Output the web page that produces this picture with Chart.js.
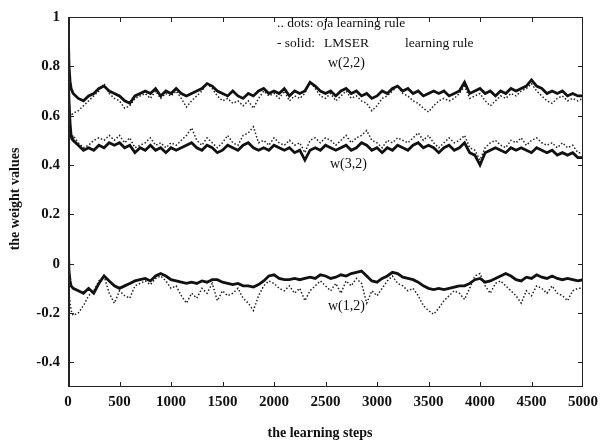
<!DOCTYPE html>
<html>
<head>
<meta charset="utf-8">
<script src="https://cdn.jsdelivr.net/npm/chart.js@4.4.1/dist/chart.umd.min.js"></script>
<style>
  html, body { margin: 0; padding: 0; background: #fff; }
  #wrap { width: 604px; height: 444px; }
</style>
</head>
<body>
<div id="wrap"><canvas id="c" width="604" height="444"></canvas></div>
<script>
// learning steps at which the weights were recorded
const steps = [0, 10, 20, 30,
  50, 100, 150, 200, 250, 300, 350, 400, 450, 500,
  550, 600, 650, 700, 750, 800, 850, 900, 950, 1000,
  1050, 1100, 1150, 1200, 1250, 1300, 1350, 1400, 1450, 1500,
  1550, 1600, 1650, 1700, 1750, 1800, 1850, 1900, 1950, 2000,
  2050, 2100, 2150, 2200, 2250, 2300, 2350, 2400, 2450, 2500,
  2550, 2600, 2650, 2700, 2750, 2800, 2850, 2900, 2950, 3000,
  3050, 3100, 3150, 3200, 3250, 3300, 3350, 3400, 3450, 3500,
  3550, 3600, 3650, 3700, 3750, 3800, 3850, 3900, 3950, 4000,
  4050, 4100, 4150, 4200, 4250, 4300, 4350, 4400, 4450, 4500,
  4550, 4600, 4650, 4700, 4750, 4800, 4850, 4900, 4950, 5000];

// w(2,2)
const w22Lmser = [0.99, 0.80, 0.74, 0.71,
  0.69, 0.67, 0.66, 0.68, 0.69, 0.71, 0.72, 0.70, 0.69, 0.68,
  0.66, 0.65, 0.68, 0.69, 0.70, 0.69, 0.71, 0.68, 0.70, 0.69,
  0.71, 0.69, 0.68, 0.69, 0.70, 0.71, 0.73, 0.72, 0.70, 0.69,
  0.68, 0.70, 0.68, 0.67, 0.69, 0.68, 0.70, 0.71, 0.69, 0.70,
  0.69, 0.71, 0.68, 0.70, 0.69, 0.70, 0.735, 0.72, 0.70, 0.69,
  0.70, 0.68, 0.70, 0.71, 0.69, 0.70, 0.68, 0.69, 0.67, 0.68,
  0.70, 0.69, 0.71, 0.72, 0.70, 0.71, 0.69, 0.70, 0.68, 0.69,
  0.70, 0.69, 0.70, 0.68, 0.69, 0.70, 0.735, 0.69, 0.70, 0.71,
  0.69, 0.70, 0.68, 0.70, 0.69, 0.71, 0.70, 0.71, 0.72, 0.745,
  0.72, 0.71, 0.69, 0.70, 0.69, 0.70, 0.68, 0.69, 0.68, 0.68];
const w22Oja = [0.75, 0.66, 0.61, 0.60,
  0.61, 0.62, 0.64, 0.66, 0.68, 0.70, 0.73, 0.69, 0.67, 0.66,
  0.63, 0.64, 0.67, 0.68, 0.69, 0.67, 0.70, 0.67, 0.69, 0.68,
  0.70, 0.67, 0.635, 0.66, 0.68, 0.70, 0.73, 0.71, 0.68, 0.66,
  0.67, 0.65, 0.66, 0.64, 0.66, 0.63, 0.67, 0.70, 0.68, 0.69,
  0.67, 0.70, 0.66, 0.68, 0.67, 0.69, 0.74, 0.71, 0.68, 0.67,
  0.69, 0.66, 0.68, 0.70, 0.67, 0.68, 0.66, 0.65, 0.62, 0.64,
  0.67, 0.68, 0.70, 0.72, 0.69, 0.68, 0.66, 0.65, 0.63, 0.615,
  0.64, 0.66, 0.67, 0.66, 0.67, 0.69, 0.72, 0.67, 0.68, 0.69,
  0.66, 0.64, 0.66, 0.68, 0.67, 0.69, 0.68, 0.70, 0.71, 0.73,
  0.70, 0.68, 0.66, 0.65, 0.67, 0.68, 0.66, 0.67, 0.66, 0.67];

// w(3,2)
const w32Lmser = [0.78, 0.66, 0.57, 0.52,
  0.50, 0.48, 0.46, 0.47, 0.46, 0.48, 0.47, 0.49, 0.48, 0.49,
  0.47, 0.48, 0.45, 0.47, 0.46, 0.48, 0.46, 0.47, 0.45, 0.47,
  0.46, 0.47, 0.48, 0.49, 0.47, 0.46, 0.48, 0.47, 0.45, 0.46,
  0.48, 0.47, 0.46, 0.48, 0.49, 0.47, 0.46, 0.47, 0.46, 0.48,
  0.47, 0.46, 0.47, 0.45, 0.46, 0.42, 0.46, 0.47, 0.46, 0.48,
  0.47, 0.46, 0.47, 0.48, 0.46, 0.47, 0.49, 0.48, 0.46, 0.47,
  0.45, 0.47, 0.46, 0.48, 0.47, 0.46, 0.48, 0.49, 0.47, 0.48,
  0.47, 0.45, 0.47, 0.48, 0.46, 0.47, 0.49, 0.45, 0.44, 0.40,
  0.45, 0.46, 0.47, 0.46, 0.45, 0.47, 0.46, 0.47, 0.46, 0.45,
  0.47, 0.46, 0.45, 0.46, 0.44, 0.45, 0.44, 0.45, 0.43, 0.43];
const w32Oja = [0.74, 0.60, 0.52, 0.50,
  0.52, 0.49, 0.47, 0.48, 0.50, 0.51, 0.50, 0.52, 0.50, 0.52,
  0.49, 0.51, 0.47, 0.48, 0.49, 0.51, 0.48, 0.49, 0.47, 0.49,
  0.48, 0.50, 0.52, 0.55, 0.50, 0.48, 0.51, 0.49, 0.47, 0.49,
  0.52, 0.49, 0.48, 0.52, 0.53, 0.555, 0.49, 0.50, 0.48, 0.51,
  0.49, 0.48, 0.50, 0.48, 0.49, 0.45, 0.50, 0.51, 0.49, 0.51,
  0.50, 0.48, 0.50, 0.52, 0.49, 0.51, 0.52, 0.54, 0.50, 0.49,
  0.47, 0.50, 0.49, 0.51, 0.50, 0.49, 0.51, 0.53, 0.50, 0.52,
  0.49, 0.47, 0.49, 0.51, 0.49, 0.50, 0.52, 0.47, 0.46, 0.42,
  0.47, 0.49, 0.50, 0.48, 0.47, 0.50, 0.49, 0.51, 0.48, 0.50,
  0.51, 0.49, 0.48, 0.49, 0.47, 0.49, 0.47, 0.48, 0.45, 0.45];

// w(1,2)
const w12Lmser = [0.11, -0.03, -0.07, -0.09,
  -0.10, -0.11, -0.12, -0.10, -0.12, -0.08, -0.05, -0.07, -0.09, -0.10,
  -0.09, -0.08, -0.07, -0.065, -0.06, -0.07, -0.05, -0.04, -0.05, -0.065,
  -0.07, -0.075, -0.08, -0.075, -0.08, -0.07, -0.075, -0.065, -0.065, -0.075,
  -0.08, -0.085, -0.08, -0.09, -0.09, -0.095, -0.085, -0.07, -0.05, -0.045,
  -0.06, -0.065, -0.065, -0.06, -0.065, -0.06, -0.055, -0.06, -0.045, -0.05,
  -0.06, -0.055, -0.045, -0.05, -0.04, -0.035, -0.03, -0.05, -0.07, -0.075,
  -0.06, -0.05, -0.035, -0.04, -0.055, -0.06, -0.065, -0.075, -0.09, -0.10,
  -0.105, -0.10, -0.105, -0.10, -0.095, -0.09, -0.09, -0.08, -0.065, -0.06,
  -0.075, -0.07, -0.06, -0.05, -0.04, -0.05, -0.065, -0.07, -0.055, -0.06,
  -0.045, -0.055, -0.06, -0.05, -0.06, -0.065, -0.06, -0.065, -0.07, -0.065];
const w12Oja = [0.05, -0.12, -0.16, -0.19,
  -0.21, -0.20, -0.17, -0.13, -0.11, -0.07, -0.05, -0.12, -0.16, -0.11,
  -0.13, -0.14, -0.09, -0.08, -0.07, -0.085, -0.06, -0.05, -0.07, -0.10,
  -0.09, -0.13, -0.16, -0.12, -0.14, -0.10, -0.12, -0.08, -0.15, -0.11,
  -0.13, -0.12, -0.10, -0.14, -0.16, -0.19, -0.13, -0.09, -0.07, -0.08,
  -0.10, -0.11, -0.09, -0.12, -0.10, -0.15, -0.11, -0.09, -0.07, -0.09,
  -0.11, -0.08, -0.12, -0.07, -0.09, -0.06, -0.08, -0.16, -0.11, -0.13,
  -0.10, -0.07, -0.05, -0.08, -0.09, -0.11, -0.10, -0.13, -0.17, -0.19,
  -0.205, -0.18, -0.15, -0.13, -0.11, -0.12, -0.145, -0.10, -0.05, -0.04,
  -0.09, -0.12, -0.08, -0.07, -0.09, -0.11, -0.13, -0.16, -0.11, -0.13,
  -0.09, -0.10, -0.12, -0.09, -0.12, -0.13, -0.15, -0.11, -0.10, -0.10];

const yTickValues = [-0.4, -0.2, 0, 0.2, 0.4, 0.6, 0.8, 1];
const xTickValues = [0, 500, 1000, 1500, 2000, 2500, 3000, 3500, 4000, 4500, 5000];

const SERIF = '"Liberation Serif", "Times New Roman", serif';

const toPoints = arr => steps.map((s, i) => ({ x: s, y: arr[i] }));

const solid = (label, arr) => ({
  label, data: toPoints(arr), order: 0,
  borderColor: '#111', borderWidth: 2.8, pointRadius: 0, tension: 0, fill: false,
  borderJoinStyle: 'miter'
});
const dotted = (label, arr) => ({
  label, data: toPoints(arr), order: 1,
  borderColor: '#222', borderWidth: 1.5, borderDash: [1.5, 2], pointRadius: 0, tension: 0, fill: false
});

// frame with inward tick marks, curve labels, note and axis titles
const decorations = {
  id: 'decorations',
  afterDraw(chart) {
    const { ctx, chartArea: a, scales: { x, y } } = chart;
    ctx.save();
    // frame
    ctx.strokeStyle = '#222';
    ctx.lineWidth = 1;
    ctx.beginPath();
    ctx.moveTo(a.left, a.top + 0.5); ctx.lineTo(a.right, a.top + 0.5);
    ctx.moveTo(a.right - 0.5, a.top); ctx.lineTo(a.right - 0.5, a.bottom);
    ctx.moveTo(a.left, a.bottom - 0.5); ctx.lineTo(a.right, a.bottom - 0.5);
    ctx.stroke();
    ctx.lineWidth = 2;
    ctx.beginPath();
    ctx.moveTo(a.left + 1, a.top); ctx.lineTo(a.left + 1, a.bottom);
    ctx.stroke();
    // inward ticks
    ctx.lineWidth = 1;
    ctx.beginPath();
    xTickValues.forEach(v => {
      if (v === x.min || v === x.max) return;
      const px = Math.round(x.getPixelForValue(v)) + 0.5;
      ctx.moveTo(px, a.bottom); ctx.lineTo(px, a.bottom - 5);
      ctx.moveTo(px, a.top); ctx.lineTo(px, a.top + 5);
    });
    yTickValues.forEach(v => {
      if (v === y.max) return;
      const py = Math.round(y.getPixelForValue(v)) + 0.5;
      ctx.moveTo(a.left, py); ctx.lineTo(a.left + 6, py);
      ctx.moveTo(a.right, py); ctx.lineTo(a.right - 5, py);
    });
    ctx.stroke();

    // note and curve labels
    ctx.fillStyle = '#111';
    ctx.textBaseline = 'middle';
    ctx.textAlign = 'left';
    ctx.font = '13.5px ' + SERIF;
    ctx.fillText('.. dots: oja learning rule', 277, 23);
    ctx.fillText('- solid:', 277, 43);
    ctx.fillText('LMSER', 324, 43);
    ctx.fillText('learning rule', 405, 43);
    ctx.font = '14px ' + SERIF;
    ctx.fillText('w(2,2)', 328, 63);
    ctx.fillText('w(3,2)', 330, 164);
    ctx.fillText('w(1,2)', 328, 306);

    // axis titles
    ctx.font = 'bold 14px ' + SERIF;
    ctx.textAlign = 'center';
    ctx.fillText('the learning steps', 320, 433);
    ctx.translate(15, (a.top + a.bottom) / 2 - 3);
    ctx.rotate(-Math.PI / 2);
    ctx.fillText('the weight values', 0, 0);
    ctx.restore();
  }
};

new Chart(document.getElementById('c'), {
  type: 'line',
  data: {
    datasets: [
      solid('w(2,2) LMSER', w22Lmser),
      solid('w(3,2) LMSER', w32Lmser),
      solid('w(1,2) LMSER', w12Lmser),
      dotted('w(2,2) oja', w22Oja),
      dotted('w(3,2) oja', w32Oja),
      dotted('w(1,2) oja', w12Oja)
    ]
  },
  options: {
    responsive: false,
    animation: false,
    devicePixelRatio: 1,
    layout: { padding: { top: 12, right: 18, left: 0, bottom: 0 } },
    plugins: { legend: { display: false }, tooltip: { enabled: false } },
    scales: {
      x: {
        type: 'linear', min: 0, max: 5000,
        afterBuildTicks: s => { s.ticks = xTickValues.map(v => ({ value: v })); },
        afterFit: s => { s.height = 57; },
        grid: { display: false, drawTicks: false },
        border: { display: false },
        ticks: {
          padding: 6, color: '#111', maxRotation: 0,
          font: { family: SERIF, size: 15, weight: 'bold' },
          callback: v => String(v)
        }
      },
      y: {
        type: 'linear', min: -0.5, max: 1,
        afterBuildTicks: s => { s.ticks = yTickValues.map(v => ({ value: v })); },
        afterFit: s => { s.width = 68; },
        grid: { display: false, drawTicks: false },
        border: { display: false },
        ticks: {
          padding: 8, color: '#111',
          font: { family: SERIF, size: 15, weight: 'bold' },
          callback: v => String(Math.round(v * 10) / 10)
        }
      }
    }
  },
  plugins: [decorations]
});
</script>
</body>
</html>
